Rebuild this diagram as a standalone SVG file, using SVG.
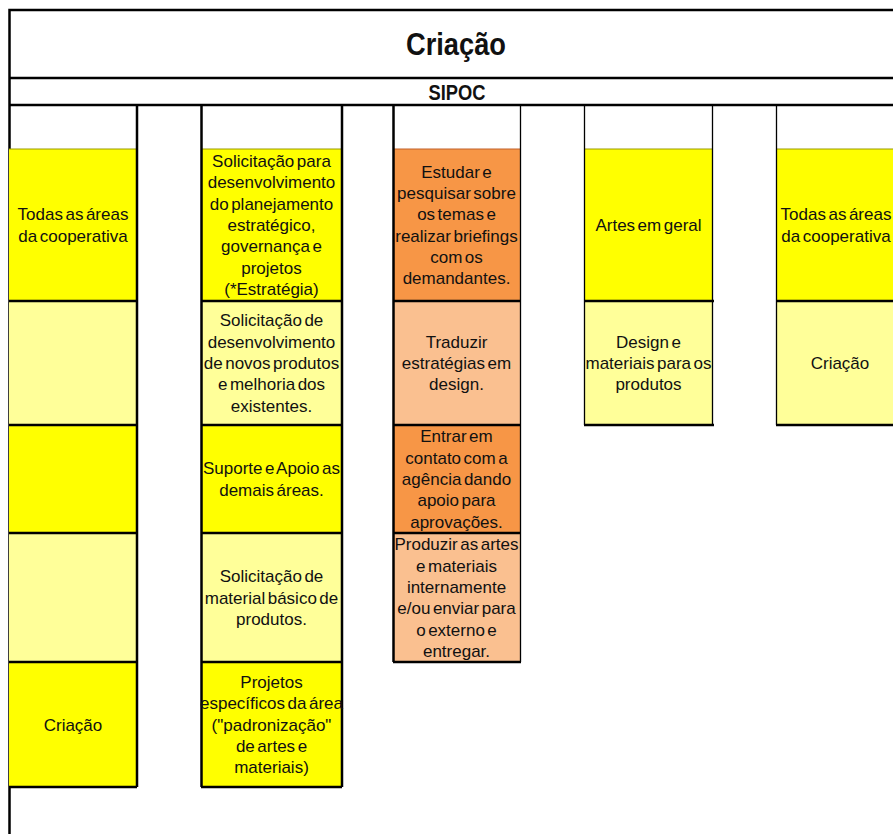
<svg xmlns="http://www.w3.org/2000/svg" width="893" height="834" viewBox="0 0 893 834">
<style>
.t{font-family:"Liberation Sans",Arial,sans-serif;font-size:17px;fill:#111;text-anchor:middle;word-spacing:-2.2px}
.h{font-family:"Liberation Sans Narrow","Liberation Sans",Arial,sans-serif;font-weight:bold;fill:#111;text-anchor:middle}
.y{fill:#FFFF00}.ly{fill:#FFFF99}.o{fill:#F79646}.lo{fill:#FAC090}
.b{stroke:#000;stroke-width:2.5;fill:none}
.tn{stroke:#000;stroke-width:1.3;fill:none}
</style>
<rect x="0" y="0" width="893" height="834" fill="#fff"/>
<g id="frame">
<path class="b" d="M9.5 834V10H893" stroke-width="3"/>
<path class="b" d="M9 78H893M9 105H893"/>
<text class="h" x="456" y="55" font-size="32" textLength="100" lengthAdjust="spacingAndGlyphs">Criação</text>
<text class="h" x="457" y="100" font-size="22" textLength="57" lengthAdjust="spacingAndGlyphs">SIPOC</text>
</g>
<g id="col1">
<rect class="y" x="9" y="149" width="128" height="152"/>
<rect class="ly" x="9" y="301" width="128" height="124"/>
<rect class="y" x="9" y="425" width="128" height="108"/>
<rect class="ly" x="9" y="533" width="128" height="129"/>
<rect class="y" x="9" y="662" width="128" height="125"/>
<path d="M9 149H137" stroke="#9a9a00" stroke-width="1"/>
<path class="b" d="M137 105V787M9 301H137M9 425H137M9 533H137M9 662H137M9 787H137"/>
<text class="t" x="73" y="220.4">Todas as áreas</text>
<text class="t" x="73" y="241.7">da cooperativa</text>
<text class="t" x="73" y="730.5">Criação</text>
</g>
<g id="col2">
<rect class="y" x="201" y="149" width="141" height="152"/>
<rect class="ly" x="201" y="301" width="141" height="124"/>
<rect class="y" x="201" y="425" width="141" height="108"/>
<rect class="ly" x="201" y="533" width="141" height="129"/>
<rect class="y" x="201" y="662" width="141" height="125"/>
<path d="M201 149H342" stroke="#9a9a00" stroke-width="1"/>
<path class="b" d="M201.5 105V787M342 105V787M201 301H342M201 425H342M201 533H342M201 662H342M201 787H342"/>
<text class="t" x="271.5" y="167.1">Solicitação para</text>
<text class="t" x="271.5" y="188.4">desenvolvimento</text>
<text class="t" x="271.5" y="209.7">do planejamento</text>
<text class="t" x="271.5" y="231">estratégico,</text>
<text class="t" x="271.5" y="252.3">governança e</text>
<text class="t" x="271.5" y="273.6">projetos</text>
<text class="t" x="271.5" y="294.9">(*Estratégia)</text>
<text class="t" x="271.5" y="326.4">Solicitação de</text>
<text class="t" x="271.5" y="347.7">desenvolvimento</text>
<text class="t" x="271.5" y="369">de novos produtos</text>
<text class="t" x="271.5" y="390.3">e melhoria dos</text>
<text class="t" x="271.5" y="411.6">existentes.</text>
<text class="t" x="271.5" y="474.4">Suporte e Apoio as</text>
<text class="t" x="271.5" y="495.7">demais áreas.</text>
<text class="t" x="271.5" y="582.2">Solicitação de</text>
<text class="t" x="271.5" y="603.5">material básico de</text>
<text class="t" x="271.5" y="624.8">produtos.</text>
<text class="t" x="271.5" y="687.9">Projetos</text>
<text class="t" x="271.5" y="709.2">específicos da área</text>
<text class="t" x="271.5" y="730.5">("padronização"</text>
<text class="t" x="271.5" y="751.8">de artes e</text>
<text class="t" x="271.5" y="773.1">materiais)</text>
</g>
<g id="col3">
<rect class="o" x="393" y="149" width="127" height="152"/>
<rect class="lo" x="393" y="301" width="127" height="124"/>
<rect class="o" x="393" y="425" width="127" height="108"/>
<rect class="lo" x="393" y="533" width="127" height="129"/>
<path d="M393 149H520" stroke="#c0602a" stroke-width="1"/>
<path class="b" d="M393.5 105V662M393 301H521M393 425H521M393 533H521M393 662H521"/>
<path class="tn" d="M520.5 105V662"/>
<text class="t" x="456.5" y="177.8">Estudar e</text>
<text class="t" x="456.5" y="199.1">pesquisar sobre</text>
<text class="t" x="456.5" y="220.4">os temas e</text>
<text class="t" x="456.5" y="241.7">realizar briefings</text>
<text class="t" x="456.5" y="263">com os</text>
<text class="t" x="456.5" y="284.3">demandantes.</text>
<text class="t" x="456.5" y="347.7">Traduzir</text>
<text class="t" x="456.5" y="369">estratégias em</text>
<text class="t" x="456.5" y="390.3">design.</text>
<text class="t" x="456.5" y="442.4">Entrar em</text>
<text class="t" x="456.5" y="463.7">contato com a</text>
<text class="t" x="456.5" y="485">agência dando</text>
<text class="t" x="456.5" y="506.3">apoio para</text>
<text class="t" x="456.5" y="527.6">aprovações.</text>
<text class="t" x="456.5" y="550.3">Produzir as artes</text>
<text class="t" x="456.5" y="571.6">e materiais</text>
<text class="t" x="456.5" y="592.9">internamente</text>
<text class="t" x="456.5" y="614.2">e/ou enviar para</text>
<text class="t" x="456.5" y="635.5">o externo e</text>
<text class="t" x="456.5" y="656.8">entregar.</text>
</g>
<g id="col4">
<rect class="y" x="584" y="149" width="129" height="152"/>
<rect class="ly" x="584" y="301" width="129" height="124"/>
<path d="M584 149H713" stroke="#9a9a00" stroke-width="1"/>
<path class="tn" d="M584.5 105V425M712.5 105V425"/>
<path class="b" d="M584 301H714M584 425H714"/>
<text class="t" x="648.5" y="231">Artes em geral</text>
<text class="t" x="648.5" y="347.7">Design e</text>
<text class="t" x="648.5" y="369">materiais para os</text>
<text class="t" x="648.5" y="390.3">produtos</text>
</g>
<g id="col5">
<rect class="y" x="777" y="149" width="116" height="152"/>
<rect class="ly" x="777" y="301" width="116" height="124"/>
<path d="M777 149H893" stroke="#9a9a00" stroke-width="1"/>
<path class="tn" d="M776.5 105V425"/>
<path class="b" d="M776 301H893M776 425H893"/>
<text class="t" x="836" y="220.4">Todas as áreas</text>
<text class="t" x="836" y="241.7">da cooperativa</text>
<text class="t" x="840" y="369">Criação</text>
</g>
</svg>
